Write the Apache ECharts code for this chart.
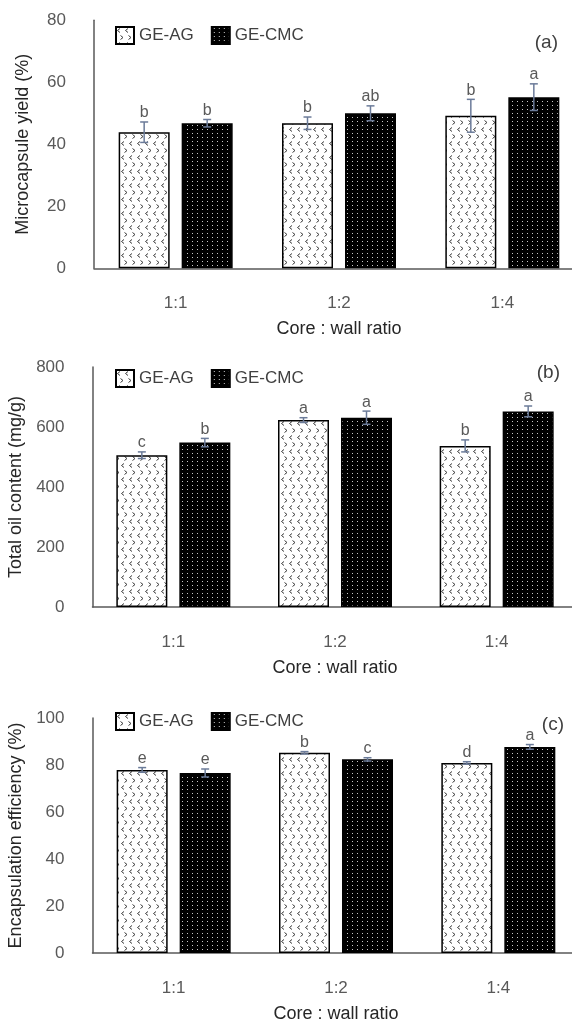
<!DOCTYPE html>
<html>
<head>
<meta charset="utf-8">
<script src="https://cdn.jsdelivr.net/npm/echarts@6/dist/echarts.min.js"></script>
<style>html,body{margin:0;padding:0;background:#fff}#main{width:572px;height:1020px}</style>
</head>
<body>
<div id="main"></div>
<script>
// ---------- data ----------
const categories = ['1:1', '1:2', '1:4'];
const seriesNames = ['GE-AG', 'GE-CMC'];

const yieldAG = [43.9, 46.8, 49.2];
const yieldCMC = [46.8, 50.0, 55.2];
const yieldErrAG = [3.3, 2.0, 5.3];
const yieldErrCMC = [1.2, 2.4, 4.3];
const yieldLettersAG = ['b', 'b', 'b'];
const yieldLettersCMC = ['b', 'ab', 'a'];

const oilAG = [506, 623, 537];
const oilCMC = [548, 631, 652];
const oilErrAG = [11, 8, 20];
const oilErrCMC = [14, 22, 18];
const oilLettersAG = ['c', 'a', 'b'];
const oilLettersCMC = ['b', 'a', 'a'];

const effAG = [77.9, 85.2, 80.9];
const effCMC = [76.6, 82.4, 87.7];
const effErrAG = [1.0, 0.5, 0.5];
const effErrCMC = [1.7, 0.7, 1.0];
const effLettersAG = ['e', 'b', 'd'];
const effLettersCMC = ['e', 'c', 'a'];

const yieldTicks = { min: 0, max: 80, interval: 20 };
const oilTicks = { min: 0, max: 800, interval: 200 };
const effTicks = { min: 0, max: 100, interval: 20 };

const panelLabels = ['(a)', '(b)', '(c)'];
const yNames = ['Microcapsule yield (%)', 'Total oil content (mg/g)', 'Encapsulation efficiency (%)'];
const xName = 'Core : wall ratio';

// ---------- patterns ----------
function agPattern() {
  const c = document.createElement('canvas');
  c.width = 8; c.height = 14;
  const g = c.getContext('2d');
  g.fillStyle = '#ffffff'; g.fillRect(0, 0, 8, 14);
  g.strokeStyle = '#3a3a3a'; g.lineWidth = 1;
  g.beginPath();
  g.moveTo(4, 1.5); g.lineTo(1.5, 3.5); g.lineTo(4, 5.5);
  g.moveTo(4.5, 8.5); g.lineTo(7, 10.5); g.lineTo(4.5, 12.5);
  g.stroke();
  return c;
}
function cmcPattern() {
  const c = document.createElement('canvas');
  c.width = 5; c.height = 4;
  const g = c.getContext('2d');
  g.fillStyle = '#000000'; g.fillRect(0, 0, 5, 4);
  g.fillStyle = '#c8c8c8'; g.fillRect(2, 1, 1, 1);
  return c;
}
const agFill = { image: agPattern(), repeat: 'repeat' };
const cmcFill = { image: cmcPattern(), repeat: 'repeat' };

const FONT = '"Liberation Sans", Arial, sans-serif';
const BAR_W = 51;
const GAP = 12;
const OFF = (BAR_W + GAP) / 2;

const grids = [
  { left: 94, top: 20.3, width: 490, height: 248, outerBoundsMode: 'none', containLabel: false },
  { left: 92.5, top: 367, width: 485, height: 240, outerBoundsMode: 'none', containLabel: false },
  { left: 92.5, top: 718, width: 487, height: 235, outerBoundsMode: 'none', containLabel: false }
];
const ticks = [yieldTicks, oilTicks, effTicks];
const panels = [
  { ag: yieldAG, cmc: yieldCMC, eAG: yieldErrAG, eCMC: yieldErrCMC, lAG: yieldLettersAG, lCMC: yieldLettersCMC },
  { ag: oilAG, cmc: oilCMC, eAG: oilErrAG, eCMC: oilErrCMC, lAG: oilLettersAG, lCMC: oilLettersCMC },
  { ag: effAG, cmc: effCMC, eAG: effErrAG, eCMC: effErrCMC, lAG: effLettersAG, lCMC: effLettersCMC }
];
const legendTops = [26, 369, 712];
const panelLabelPos = [[558, 43], [560, 373], [564, 725]];
const yNameGaps = [62, 62, 61];

function errRender(offset, letters) {
  return function (params, api) {
    const cat = api.value(0), v = api.value(1), e = api.value(2);
    const x = api.coord([cat, v])[0] + offset;
    const yT = api.coord([cat, v + e])[1];
    const yB = api.coord([cat, v - e])[1];
    const st = { stroke: '#6b7b99', lineWidth: 1.5 };
    return {
      type: 'group',
      children: [
        { type: 'line', shape: { x1: x, y1: yT, x2: x, y2: yB }, style: st },
        { type: 'line', shape: { x1: x - 4, y1: yT, x2: x + 4, y2: yT }, style: st },
        { type: 'line', shape: { x1: x - 4, y1: yB, x2: x + 4, y2: yB }, style: st },
        { type: 'text', style: { text: letters[params.dataIndex], x: x, y: yT - 1, align: 'center', verticalAlign: 'bottom', fill: '#595959', font: '16px ' + FONT } }
      ]
    };
  };
}

const option = {
  animation: false,
  backgroundColor: '#ffffff',
  grid: grids,
  legend: grids.map((g, i) => ({
    left: 115, top: legendTops[i], orient: 'horizontal', padding: 0,
    itemWidth: 18, itemHeight: 17, itemGap: 17,
    icon: 'rect',
    textStyle: { color: '#404040', fontSize: 17, fontFamily: FONT },
    data: seriesNames.map(n => n + '\u200b'.repeat(i))
  })),
  xAxis: grids.map((g, i) => ({
    type: 'category', gridIndex: i, data: categories,
    axisLine: { show: true, lineStyle: { color: '#595959', width: 1.5 } },
    axisTick: { show: false },
    axisLabel: { color: '#595959', fontSize: 17, fontFamily: FONT, margin: 27 },
    name: xName, nameLocation: 'middle', nameGap: 52,
    nameTextStyle: { color: '#262626', fontSize: 18, fontFamily: FONT }
  })),
  yAxis: grids.map((g, i) => ({
    type: 'value', gridIndex: i, min: ticks[i].min, max: ticks[i].max, interval: ticks[i].interval,
    axisLine: { show: true, lineStyle: { color: '#595959', width: 1.5 } },
    axisTick: { show: false },
    splitLine: { show: false },
    axisLabel: { color: '#595959', fontSize: 17, fontFamily: FONT, margin: 28 },
    name: yNames[i], nameLocation: 'middle', nameGap: yNameGaps[i], nameRotate: 90,
    nameTextStyle: { color: '#262626', fontSize: 18, fontFamily: FONT }
  })),
  graphic: panelLabelPos.map((p, i) => ({
    type: 'text', x: p[0], y: p[1],
    style: { text: panelLabels[i], align: 'right', verticalAlign: 'middle', fill: '#404040', font: '19px ' + FONT }
  })),
  series: []
};

panels.forEach((p, i) => {
  const suffix = '\u200b'.repeat(i);
  option.series.push({
    name: seriesNames[0] + suffix, type: 'bar', xAxisIndex: i, yAxisIndex: i,
    data: p.ag, barWidth: BAR_W, barGap: (GAP / BAR_W * 100) + '%',
    itemStyle: { color: agFill, borderColor: '#000', borderWidth: 1.5 }
  });
  option.series.push({
    name: seriesNames[1] + suffix, type: 'bar', xAxisIndex: i, yAxisIndex: i,
    data: p.cmc, barWidth: BAR_W, barGap: (GAP / BAR_W * 100) + '%',
    itemStyle: { color: cmcFill, borderColor: '#000', borderWidth: 1.5 }
  });
  option.series.push({
    type: 'custom', xAxisIndex: i, yAxisIndex: i, z: 5,
    renderItem: errRender(-OFF, p.lAG),
    data: p.ag.map((v, k) => [k, v, p.eAG[k]])
  });
  option.series.push({
    type: 'custom', xAxisIndex: i, yAxisIndex: i, z: 5,
    renderItem: errRender(OFF, p.lCMC),
    data: p.cmc.map((v, k) => [k, v, p.eCMC[k]])
  });
});

const chart = echarts.init(document.getElementById('main'), null, { renderer: 'canvas' });
chart.setOption(option);
</script>
</body>
</html>
